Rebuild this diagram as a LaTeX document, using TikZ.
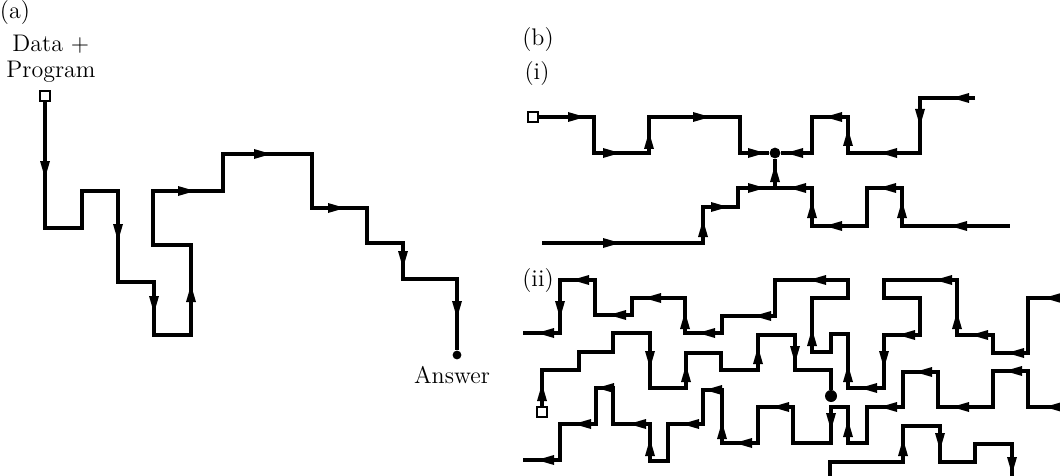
\documentclass[tikz,border=0pt]{standalone}
\tikzset{
  wire/.style={line width=1.65pt, line join=miter},
  ah/.pic={\fill (8,0) -- (-9,5) -- (-9,-5) -- cycle;},
  lbl/.style={font=\fontsize{12}{14}\selectfont, inner sep=0pt},
  startbox/.style={draw, fill=white, line width=0.9pt, minimum size=4.8pt, inner sep=0pt},
  enddot/.style={circle, fill=black, minimum size=5.4pt, inner sep=0pt},
}
\newcommand\arrowat[3]{\pic[rotate=#3] at (#1,#2) {ah};}
\begin{document}
\begin{tikzpicture}[x=0.5pt,y=-0.5pt]
\useasboundingbox[fill=white] (0,0) rectangle (1060,476);
% ---------- (a)
\node[lbl] (la) at (15,13) {(a)};
\node[lbl, anchor=base west] (data) at (12,52) {Data +};
\node[lbl, anchor=base west] (prog) at (6,78) {Program};
\node[startbox] (a0) at (45,96) {};
\node[enddot, minimum size=4.4pt] (a1) at (457,355) {};
\node[lbl, anchor=base] (ans) at (452,383) {Answer};
\draw[wire] (a0.south) -- (45,228) -- (82,228) -- (82,191) -- (118,191) -- (118,282) -- (154,282) -- (154,335) -- (191,335) -- (191,245) -- (153,245) -- (153,191) -- (223,191) -- (223,154) -- (312,154) -- (312,208) -- (367,208) -- (367,243) -- (403,243) -- (403,279) -- (457,279) -- (a1);
\arrowat{45}{170}{270}
\arrowat{118}{233}{270}
\arrowat{154}{305}{270}
\arrowat{191}{293}{90}
\arrowat{187}{191}{0}
\arrowat{263}{154}{0}
\arrowat{337}{208}{0}
\arrowat{403}{260}{270}
\arrowat{457}{310}{270}
% ---------- (b)
\node[lbl] (lb) at (538,40) {(b)};
\node[lbl] (li) at (537,74) {(i)};
\node[lbl] (lii) at (538,281) {(ii)};
% (i)
\node[startbox] (s1) at (533,117) {};
\node[enddot] (d1) at (775,153) {};
\draw[wire] (s1.east) -- (594,117) -- (594,153) -- (649,153) -- (649,117) -- (740,117) -- (740,153) -- (d1);
\draw[wire] (975,98) -- (920,98) -- (920,153) -- (848,153) -- (848,117) -- (812,117) -- (812,153) -- (d1);
\draw[wire] (542,243) -- (703,243) -- (703,207) -- (738,207) -- (738,188) -- (812,188) -- (812,226) -- (867,226) -- (867,188) -- (902,188) -- (902,226) -- (1010,226);
\draw[wire] (775,188) -- (d1);
\arrowat{577}{117}{0}
\arrowat{612}{153}{0}
\arrowat{649}{140}{90}
\arrowat{702}{117}{0}
\arrowat{757}{153}{0}
\arrowat{794}{153}{180}
\arrowat{833}{117}{180}
\arrowat{848}{137}{90}
\arrowat{888}{153}{180}
\arrowat{920}{118}{270}
\arrowat{960}{98}{180}
\arrowat{612}{243}{0}
\arrowat{703}{228}{90}
\arrowat{720}{207}{0}
\arrowat{757}{188}{0}
\arrowat{775}{173}{90}
\arrowat{797}{188}{180}
\arrowat{812}{209}{90}
\arrowat{833}{226}{180}
\arrowat{887}{188}{180}
\arrowat{902}{209}{90}
\arrowat{958}{226}{180}
% (ii) row 1
\draw[wire] (1060,298) -- (1028,298) -- (1028,353) -- (993,353) -- (993,335) -- (957,335) -- (957,280) -- (884,280) -- (884,298) -- (920,298) -- (920,335) -- (884,335) -- (884,388) -- (848,388) -- (848,334) -- (831,334) -- (831,352) -- (812,352) -- (812,298) -- (848,298) -- (848,280) -- (775,280) -- (775,316) -- (722,316) -- (722,333) -- (685,333) -- (685,298) -- (632,298) -- (632,315) -- (595,315) -- (595,280) -- (560,280) -- (560,333) -- (523,333);
\arrowat{1052}{298}{180}
\arrowat{1015}{353}{180}
\arrowat{979}{335}{180}
\arrowat{957}{320}{90}
\arrowat{943}{280}{180}
\arrowat{906}{335}{180}
\arrowat{884}{360}{270}
\arrowat{868}{388}{180}
\arrowat{848}{373}{90}
\arrowat{812}{337}{90}
\arrowat{817}{280}{180}
\arrowat{762}{316}{180}
\arrowat{706}{333}{180}
\arrowat{685}{320}{90}
\arrowat{652}{298}{180}
\arrowat{617}{315}{180}
\arrowat{580}{280}{180}
\arrowat{560}{310}{270}
\arrowat{545}{333}{180}
% (ii) row 2
\node[startbox] (s2) at (542,412) {};
\node[enddot, minimum size=6pt] (d2) at (831,396) {};
\draw[wire] (s2.north) -- (542,370) -- (579,370) -- (579,352) -- (613,352) -- (613,333) -- (650,333) -- (650,388) -- (686,388) -- (686,353) -- (721,353) -- (721,370) -- (758,370) -- (758,335) -- (795,335) -- (795,370) -- (831,370) -- (d2);
\arrowat{542}{392}{90}
\arrowat{650}{360}{270}
\arrowat{686}{373}{90}
\arrowat{758}{355}{90}
\arrowat{795}{355}{270}
% (ii) row 3
\draw[wire] (1060,407) -- (1028,407) -- (1028,371) -- (993,371) -- (993,407) -- (938,407) -- (938,372) -- (903,372) -- (903,407) -- (867,407) -- (867,443) -- (848,443) -- (848,407) -- (831,407) -- (831,443) -- (793,443) -- (793,407) -- (758,407) -- (758,443) -- (722,443) -- (722,390) -- (703,390) -- (703,424) -- (668,424) -- (668,461) -- (650,461) -- (650,424) -- (613,424) -- (613,388) -- (596,388) -- (596,424) -- (560,424) -- (560,460) -- (523,460);
\arrowat{1053}{407}{180}
\arrowat{1013}{371}{180}
\arrowat{960}{407}{180}
\arrowat{923}{372}{180}
\arrowat{888}{407}{180}
\arrowat{848}{428}{90}
\arrowat{831}{422}{270}
\arrowat{780}{407}{180}
\arrowat{743}{443}{180}
\arrowat{722}{430}{90}
\arrowat{713}{390}{180}
\arrowat{690}{424}{180}
\arrowat{650}{447}{90}
\arrowat{637}{424}{180}
\arrowat{605}{388}{180}
\arrowat{582}{424}{180}
\arrowat{545}{460}{180}
% (ii) row 4
\draw[wire] (830,476) -- (830,462) -- (903,462) -- (903,426) -- (940,426) -- (940,462) -- (975,462) -- (975,444) -- (1012,444) -- (1012,476);
\arrowat{903}{447}{90}
\arrowat{940}{442}{270}
\arrowat{1012}{466}{270}
\end{tikzpicture}
\end{document}
